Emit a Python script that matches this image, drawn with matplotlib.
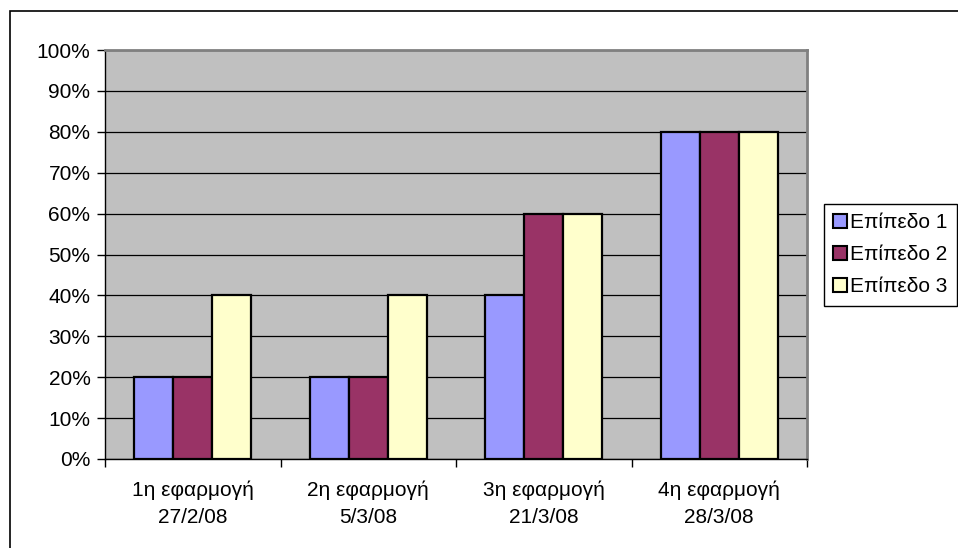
import numpy as np
import matplotlib
matplotlib.use("Agg")
import matplotlib.pyplot as plt
from matplotlib.patches import Patch, Rectangle

plt.rcParams['font.family'] = ['Liberation Sans', 'DejaVu Sans']

# data
categories = ["1η εφαρμογή\n27/2/08", "2η εφαρμογή\n5/3/08",
              "3η εφαρμογή\n21/3/08", "4η εφαρμογή\n28/3/08"]
series_names = ["Επίπεδο 1", "Επίπεδο 2", "Επίπεδο 3"]
level1 = [20, 20, 40, 80]
level2 = [20, 20, 60, 80]
level3 = [40, 40, 60, 80]
colors = ["#9999FF", "#993366", "#FFFFCC"]
yticks = np.arange(0, 101, 10)

W, H = 958, 548
FS = 15
fig = plt.figure(figsize=(W / 100, H / 100), dpi=100)

# outer chart border (runs off right/bottom edge like the source)
fig.patches.append(Rectangle((10 / W, -0.1), 1.2, 1 - 11 / H + 0.1,
                             transform=fig.transFigure, fill=False,
                             edgecolor="black", lw=1.2))

ax = fig.add_axes([105 / W, (H - 459) / H, 702 / W, 409 / H])
ax.set_facecolor("#C0C0C0")

x = np.arange(len(categories))
w = 1 / 4.5
for i, (vals, c) in enumerate(zip([level1, level2, level3], colors)):
    ax.bar(x + (i - 1) * w, vals, w, color=c, edgecolor="black",
           linewidth=1.6, zorder=3)

ax.set_xlim(-0.5, len(categories) - 0.5)
ax.set_ylim(0, 100)
ax.set_yticks(yticks)
ax.set_yticklabels([f"{v}%" for v in yticks])
ax.yaxis.grid(True, color="black", lw=0.9, zorder=1)
ax.set_axisbelow(True)

# category ticks at group boundaries, labels centred on groups
ax.set_xticks(np.arange(-0.5, len(categories)), minor=False)
ax.set_xticklabels([])
ax.set_xticks(x, minor=True)
ax.set_xticklabels(categories, minor=True, linespacing=1.55)
ax.tick_params(axis="x", which="minor", length=0, pad=15.5, labelsize=FS)
ax.tick_params(axis="x", which="major", length=6, width=1, direction="out")
ax.tick_params(axis="y", length=6, width=1, pad=4.5, labelsize=FS)

for s in ["left", "bottom"]:
    ax.spines[s].set_color("black")
    ax.spines[s].set_linewidth(1)
for s in ["top", "right"]:
    ax.spines[s].set_color("#808080")
    ax.spines[s].set_linewidth(2)

handles = [Patch(facecolor=c, edgecolor="black", lw=1.5) for c in colors]
leg = fig.legend(handles, series_names, loc="upper left",
                 bbox_to_anchor=(824 / W, 1 - 204 / H),
                 fontsize=FS, frameon=True, fancybox=False,
                 edgecolor="black", framealpha=1, borderpad=0.45,
                 handlelength=0.65, handleheight=0.65, handletextpad=0.15,
                 labelspacing=0.62, borderaxespad=0)
leg.get_frame().set_linewidth(1)

fig.savefig("out.png", dpi=100)
